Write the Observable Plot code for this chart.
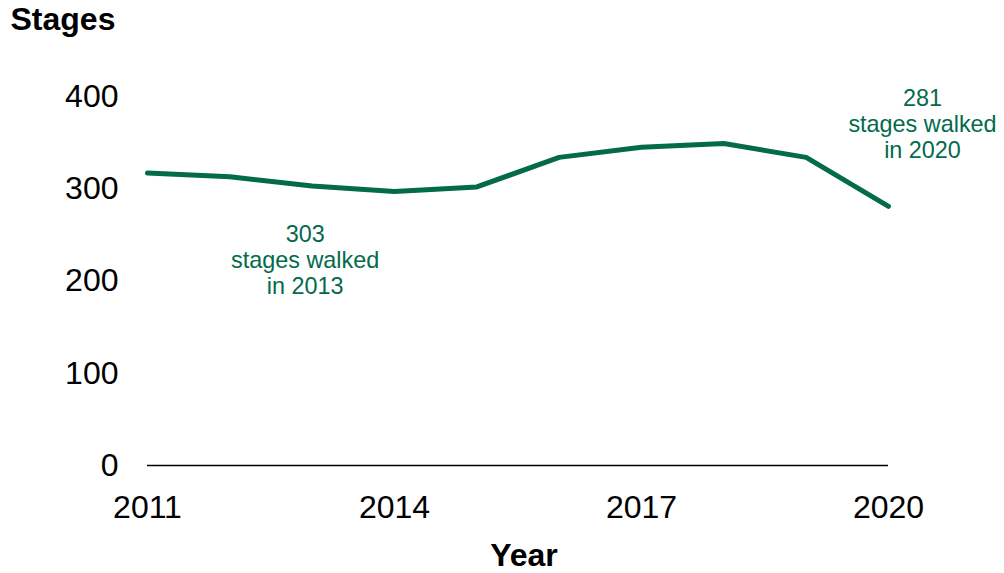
<!DOCTYPE html>
<html>
<head>
<meta charset="utf-8">
<script src="https://cdn.jsdelivr.net/npm/d3@7"></script>
<script src="https://cdn.jsdelivr.net/npm/@observablehq/plot@0.6"></script>
<style>
  html, body { margin: 0; padding: 0; background: #fff; }
  #chart { width: 1004px; height: 573px; }
</style>
</head>
<body>
<div id="chart"></div>
<script>
const years = [2011, 2012, 2013, 2014, 2015, 2016, 2017, 2018, 2019, 2020];
const stages = [317, 313, 303, 297, 302, 334, 345, 349, 334, 281];
const xTicks = [2011, 2014, 2017, 2020];
const yTicks = [0, 100, 200, 300, 400];
const noteYears = [2013, 2020];
const noteValues = [303, 281];
const noteLabels = ["303\nstages walked\nin 2013", "281\nstages walked\nin 2020"];

const green = "#036a4c";
const data = years.map((year, i) => ({year, value: stages[i]}));
const notes = noteYears.map((year, i) => ({year, value: noteValues[i], label: noteLabels[i]}));

const chart = Plot.plot({
  width: 1004,
  height: 573,
  marginTop: 96,
  marginBottom: 108,
  marginLeft: 147,
  marginRight: 116,
  style: {fontFamily: "'Liberation Sans', Arial, sans-serif", background: "#fff", color: "#000"},
  x: {domain: [2011, 2020]},
  y: {domain: [0, 400]},
  marks: [
    Plot.axisY({ticks: yTicks, tickSize: 0, tickPadding: 29, fontSize: 32, label: null}),
    Plot.axisX({ticks: xTicks, tickSize: 0, tickPadding: 30, fontSize: 32, tickFormat: "d", label: null}),
    Plot.ruleY([0], {stroke: "#000", strokeWidth: 1.5}),
    Plot.line(data, {x: "year", y: "value", stroke: green, strokeWidth: 5, strokeLinejoin: "round"}),
    Plot.text(notes.filter(d => d.year === 2013), {x: "year", y: "value", text: "label", fill: green, fontSize: 23.4, lineHeight: 1.12, lineAnchor: "top", dy: 37, dx: -7}),
    Plot.text(notes.filter(d => d.year === 2020), {x: "year", y: "value", text: "label", fill: green, fontSize: 23.4, lineHeight: 1.12, lineAnchor: "top", dy: -119, dx: 34}),
    Plot.text(["Stages"], {frameAnchor: "top-left", textAnchor: "start", lineAnchor: "top", dx: -137, dy: -89, fontSize: 32, fontWeight: "bold", fill: "#000"}),
    Plot.text(["Year"], {frameAnchor: "bottom", lineAnchor: "top", dx: 6, dy: 78, fontSize: 32, fontWeight: "bold", fill: "#000"})
  ]
});
document.getElementById("chart").appendChild(chart);
</script>
</body>
</html>
